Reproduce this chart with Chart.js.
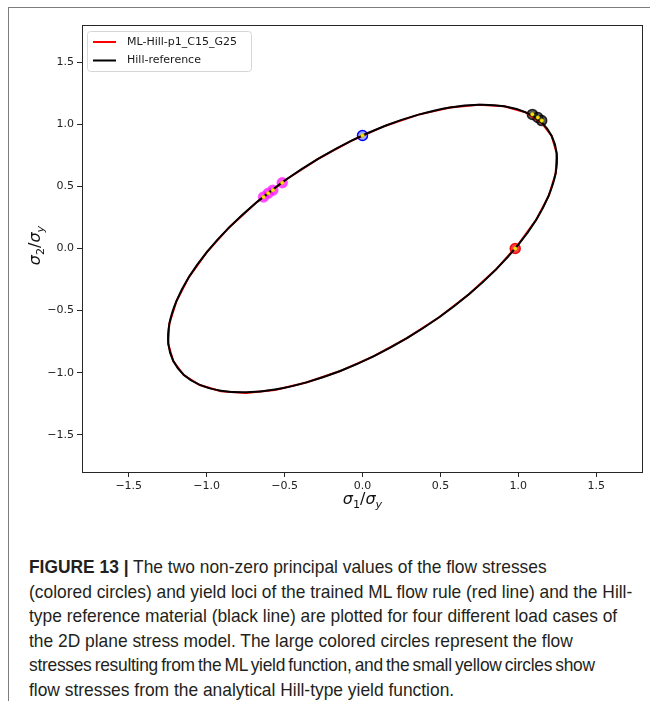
<!DOCTYPE html>
<html>
<head>
<meta charset="utf-8">
<script src="https://cdn.jsdelivr.net/npm/chart.js@4.4.0/dist/chart.umd.min.js"></script>
<style>
  html, body { margin: 0; padding: 0; background: #fff; }
  body { width: 650px; height: 701px; position: relative; overflow: hidden; }
  .frame { position: absolute; left: 8px; top: 7px; right: -2px; bottom: -2px; border-top: 1px solid #7d7d7d; border-left: 1px solid #7d7d7d; }
  #wrap { position: absolute; left: 0; top: 0; width: 650px; height: 520px; }
  .caption { position: absolute; left: 29px; top: 555px; font-family: "Liberation Sans", Arial, sans-serif; font-size: 19px; line-height: 24.5px; color: #231f20; transform: scaleX(0.915); transform-origin: 0 0; }
  .caption div { white-space: nowrap; }
</style>
</head>
<body>
<div class="frame"></div>
<div id="wrap"><canvas id="chart-yield-locus"></canvas></div>
<div class="caption">
  <div><b>FIGURE 13 |</b> The two non-zero principal values of the flow stresses</div>
  <div>(colored circles) and yield loci of the trained ML flow rule (red line) and the Hill-</div>
  <div>type reference material (black line) are plotted for four different load cases of</div>
  <div>the 2D plane stress model. The large colored circles represent the flow</div>
  <div style="letter-spacing:-0.3px; word-spacing:-1.5px">stresses resulting from the ML yield function, and the small yellow circles show</div>
  <div>flow stresses from the analytical Hill-type yield function.</div>
</div>
<script>
// axis ticks
const tickValues = [-1.5, -1.0, -0.5, 0.0, 0.5, 1.0, 1.5];
const axisMin = -1.8;
const axisMax = 1.8;

// Hill reference yield locus (sigma_1 / sigma_y, sigma_2 / sigma_y)
const hillLocusS1 = [-0.492, -0.683, -0.854, -0.999, -1.114, -1.194, -1.239, -1.246, -1.214, -1.146,
  -1.044, -0.909, -0.747, -0.562, -0.360, -0.147, 0.070, 0.285, 0.492, 0.683,
  0.854, 0.999, 1.114, 1.194, 1.239, 1.246, 1.214, 1.146, 1.044, 0.909,
  0.747, 0.562, 0.360, 0.147, -0.070, -0.285, -0.492, -0.683];
const hillLocusS2 = [0.554, 0.369, 0.172, -0.029, -0.230, -0.424, -0.605, -0.767, -0.906, -1.018,
  -1.098, -1.146, -1.158, -1.136, -1.078, -0.989, -0.869, -0.722, -0.554, -0.369,
  -0.172, 0.029, 0.230, 0.424, 0.605, 0.767, 0.906, 1.018, 1.098, 1.146,
  1.158, 1.136, 1.078, 0.989, 0.869, 0.722, 0.554, 0.369];

// ML yield locus (almost on top of the reference)
const mlLocusS1 = [-0.492, -0.683, -0.854, -0.999, -1.114, -1.194, -1.240, -1.247, -1.215, -1.147,
  -1.045, -0.909, -0.747, -0.562, -0.360, -0.147, 0.070, 0.285, 0.492, 0.683,
  0.854, 0.998, 1.114, 1.195, 1.240, 1.246, 1.214, 1.146, 1.044, 0.909,
  0.747, 0.562, 0.360, 0.147, -0.070, -0.285, -0.492, -0.683];
const mlLocusS2 = [0.554, 0.369, 0.172, -0.029, -0.230, -0.424, -0.605, -0.768, -0.907, -1.019,
  -1.100, -1.150, -1.163, -1.139, -1.079, -0.989, -0.869, -0.722, -0.554, -0.369,
  -0.172, 0.029, 0.230, 0.424, 0.605, 0.767, 0.906, 1.018, 1.098, 1.146,
  1.158, 1.136, 1.078, 0.989, 0.869, 0.722, 0.554, 0.369];

// flow stresses of the four load cases (large circles: ML, small yellow: Hill)
const mlFlowS1 = [0.98, 0.00, -0.635, -0.605, -0.575, -0.515, 1.09, 1.125, 1.15];
const mlFlowS2 = [0.00, 0.91, 0.415, 0.445, 0.470, 0.530, 1.08, 1.055, 1.03];
const mlFlowCase = [0, 1, 2, 2, 2, 2, 3, 3, 3];
const hillFlowS1 = [0.98, 0.00, -0.635, -0.605, -0.575, -0.515, 1.09, 1.125, 1.15];
const hillFlowS2 = [0.00, 0.91, 0.415, 0.445, 0.470, 0.530, 1.08, 1.055, 1.03];

const caseFill = ['rgba(255,0,0,0.75)', 'rgba(40,60,255,0.45)', 'rgba(255,0,255,0.7)', 'rgba(20,20,20,0.7)'];
const caseEdge = ['rgba(230,0,0,0.9)', 'rgba(0,0,255,1)', 'rgba(255,60,255,0.8)', 'rgba(0,0,0,0.8)'];

const toPoints = (xs, ys) => xs.map((x, i) => ({ x: x, y: ys[i] }));

const fmtTick = v => (v < 0 ? '\u2212' : '') + Math.abs(v).toFixed(1);

// math-style axis titles with subscripts
const xTitleParts = [{ t: '\u03c3', it: true }, { t: '1', sub: true }, { t: '/' }, { t: '\u03c3', it: true }, { t: 'y', it: true, sub: true }];
const yTitleParts = [{ t: '\u03c3', it: true }, { t: '2', sub: true }, { t: '/' }, { t: '\u03c3', it: true }, { t: 'y', it: true, sub: true }];

function drawMath(ctx, parts, cx, baseY, size) {
  const fontFor = p => (p.it ? 'italic ' : '') + (p.sub ? size * 0.7 : size) + 'px "DejaVu Sans"';
  let total = 0;
  const widths = parts.map(p => { ctx.font = fontFor(p); const w = ctx.measureText(p.t).width; total += w; return w; });
  let x = cx - total / 2;
  ctx.textAlign = 'left';
  ctx.textBaseline = 'alphabetic';
  parts.forEach((p, i) => {
    ctx.font = fontFor(p);
    ctx.fillText(p.t, x, baseY + (p.sub ? size * 0.24 : 0));
    x += widths[i];
  });
}

const axisTitles = {
  id: 'axisTitles',
  afterDraw(chart) {
    const ctx = chart.ctx;
    const area = chart.chartArea;
    ctx.save();
    ctx.fillStyle = '#111';
    drawMath(ctx, xTitleParts, (area.left + area.right) / 2, 504, 16);
    ctx.translate(40, (area.top + area.bottom) / 2 - 3);
    ctx.rotate(-Math.PI / 2);
    drawMath(ctx, yTitleParts, 0, 0, 16);
    ctx.restore();
  }
};

// axes box on all four sides
const axesBox = {
  id: 'axesBox',
  afterDatasetsDraw(chart) {
    const a = chart.chartArea;
    const ctx = chart.ctx;
    ctx.save();
    ctx.strokeStyle = '#262626';
    ctx.lineWidth = 1;
    ctx.strokeRect(Math.round(a.left) + 0.5, Math.round(a.top) + 0.5, Math.round(a.right - a.left) - 1, Math.round(a.bottom - a.top));
    ctx.restore();
  }
};

// matplotlib-like legend in the upper left corner of the axes
const innerLegend = {
  id: 'innerLegend',
  afterDraw(chart) {
    const ctx = chart.ctx;
    const a = chart.chartArea;
    const items = chart.data.datasets.slice(0, 2);
    const x0 = a.left + 5.5, y0 = a.top + 6.5;
    ctx.save();
    ctx.beginPath();
    ctx.roundRect(x0, y0, 164, 40, 3);
    ctx.fillStyle = 'rgba(255,255,255,0.85)';
    ctx.fill();
    ctx.strokeStyle = '#d6d6d6';
    ctx.lineWidth = 1;
    ctx.stroke();
    ctx.font = '11px "DejaVu Sans"';
    ctx.textBaseline = 'middle';
    ctx.textAlign = 'left';
    items.forEach((ds, i) => {
      const y = a.top + 17 + i * 18.5;
      ctx.beginPath();
      ctx.moveTo(a.left + 11, y);
      ctx.lineTo(a.left + 34, y);
      ctx.strokeStyle = ds.borderColor;
      ctx.lineWidth = 2;
      ctx.stroke();
      ctx.fillStyle = '#1a1a1a';
      ctx.fillText(ds.label, a.left + 45, y);
    });
    ctx.restore();
  }
};

const axisStyle = (width, height) => ({
  type: 'linear',
  min: axisMin,
  max: axisMax,
  afterBuildTicks: axis => { axis.ticks = tickValues.map(v => ({ value: v })); },
  afterFit: scale => {
    if (width) scale.width = width;
    if (height) scale.height = height;
  },
  grid: { drawOnChartArea: false, drawTicks: true, tickLength: 5, tickColor: '#262626', tickWidth: 1 },
  border: { display: false },
  ticks: {
    callback: fmtTick,
    color: '#222',
    padding: 3,
    font: { family: 'DejaVu Sans', size: 11 },
    maxRotation: 0,
    autoSkip: false
  },
  title: { display: false }
});

const config = {
  type: 'scatter',
  data: {
    datasets: [
      {
        label: 'ML-Hill-p1_C15_G25',
        data: toPoints(mlLocusS1, mlLocusS2),
        showLine: true,
        borderColor: 'red',
        borderWidth: 2,
        pointRadius: 0,
        tension: 0,
        order: 2
      },
      {
        label: 'Hill-reference',
        data: toPoints(hillLocusS1, hillLocusS2),
        showLine: true,
        borderColor: 'black',
        borderWidth: 2,
        pointRadius: 0,
        tension: 0.4,
        order: 1
      },
      {
        label: 'ML flow stresses',
        data: toPoints(mlFlowS1, mlFlowS2),
        pointRadius: 5,
        pointBackgroundColor: mlFlowCase.map(c => caseFill[c]),
        pointBorderColor: mlFlowCase.map(c => caseEdge[c]),
        pointBorderWidth: 1.5,
        order: 3
      },
      {
        label: 'Hill flow stresses',
        data: toPoints(hillFlowS1, hillFlowS2),
        pointRadius: 1.8,
        pointBackgroundColor: '#f5e400',
        pointBorderColor: '#e0c800',
        pointBorderWidth: 0.5,
        order: 0
      }
    ]
  },
  options: {
    responsive: true,
    maintainAspectRatio: false,
    animation: false,
    layout: { padding: { left: 0, right: 7, top: 25, bottom: 0 } },
    scales: {
      x: axisStyle(null, 48),
      y: axisStyle(82, null)
    },
    plugins: {
      legend: { display: false },
      tooltip: { enabled: false }
    }
  },
  plugins: [axesBox, axisTitles, innerLegend]
};

const ctx = document.getElementById('chart-yield-locus').getContext('2d');
const yieldChart = new Chart(ctx, config);
</script>
</body>
</html>
